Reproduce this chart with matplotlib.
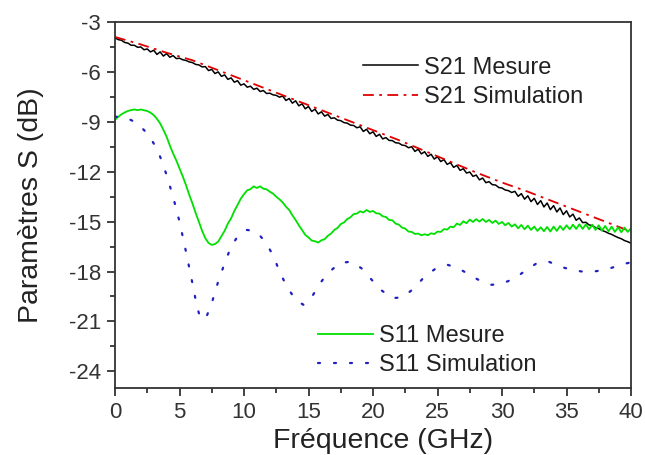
import matplotlib
matplotlib.use("Agg")
import matplotlib.pyplot as plt
from matplotlib.ticker import MultipleLocator
import numpy as np

plt.rcParams['font.family'] = ['Liberation Sans', 'DejaVu Sans']
plt.rcParams['axes.unicode_minus'] = False

# measured curves sampled every 0.25 GHz
f_meas = np.arange(0, 40.01, 0.25)

s21_mes = [
    -3.95, -4.06, -4.10, -4.23, -4.27, -4.40, -4.40, -4.52,
    -4.50, -4.67, -4.62, -4.80, -4.70, -4.95, -4.80, -5.05,
    -4.90, -5.12, -5.02, -5.20, -5.18, -5.27, -5.31, -5.40,
    -5.44, -5.55, -5.58, -5.70, -5.68, -5.92, -5.85, -6.10,
    -6.00, -6.27, -6.18, -6.45, -6.36, -6.62, -6.53, -6.80,
    -6.72, -6.92, -6.86, -7.05, -6.98, -7.18, -7.12, -7.30,
    -7.28, -7.38, -7.41, -7.52, -7.45, -7.72, -7.60, -7.88,
    -7.74, -8.04, -7.92, -8.22, -8.08, -8.38, -8.24, -8.53,
    -8.40, -8.66, -8.56, -8.80, -8.76, -8.90, -8.93, -9.05,
    -9.08, -9.20, -9.22, -9.36, -9.30, -9.58, -9.45, -9.72,
    -9.60, -9.88, -9.75, -10.03, -9.95, -10.12, -10.13, -10.26,
    -10.28, -10.40, -10.43, -10.56, -10.50, -10.78, -10.65, -10.93,
    -10.80, -11.08, -10.95, -11.24, -11.10, -11.39, -11.27, -11.56,
    -11.45, -11.74, -11.62, -11.92, -11.82, -12.08, -12.02, -12.28,
    -12.20, -12.49, -12.38, -12.66, -12.60, -12.78, -12.80, -12.95,
    -12.98, -13.10, -13.14, -13.25, -13.18, -13.48, -13.32, -13.65,
    -13.45, -13.80, -13.60, -13.97, -13.74, -14.12, -13.88, -14.28,
    -14.04, -14.42, -14.18, -14.58, -14.35, -14.72, -14.55, -14.92,
    -14.78, -15.06, -15.04, -15.20, -15.24, -15.36, -15.42, -15.53,
    -15.60, -15.70, -15.77, -15.87, -15.96, -16.03, -16.14, -16.21,
    -16.30,
]

s11_mes = [
    -8.88, -8.70, -8.55, -8.44, -8.35, -8.30, -8.26, -8.30,
    -8.26, -8.31, -8.35, -8.45, -8.60, -8.82, -9.10, -9.48,
    -9.90, -10.42, -10.90, -11.32, -11.80, -12.28, -12.80, -13.38,
    -13.90, -14.48, -15.00, -15.55, -16.00, -16.28, -16.40, -16.35,
    -16.20, -15.88, -15.55, -15.12, -14.80, -14.36, -14.00, -13.62,
    -13.35, -13.12, -13.05, -12.88, -12.98, -12.88, -13.02, -13.06,
    -13.20, -13.32, -13.50, -13.66, -13.85, -14.10, -14.30, -14.62,
    -14.90, -15.22, -15.50, -15.80, -15.95, -16.14, -16.18, -16.26,
    -16.12, -16.06, -15.85, -15.72, -15.50, -15.38, -15.15, -15.05,
    -14.85, -14.74, -14.55, -14.52, -14.38, -14.45, -14.30, -14.42,
    -14.36, -14.50, -14.52, -14.68, -14.72, -14.90, -14.92, -15.12,
    -15.18, -15.36, -15.42, -15.60, -15.62, -15.74, -15.72, -15.82,
    -15.76, -15.82, -15.70, -15.75, -15.60, -15.62, -15.45, -15.48,
    -15.30, -15.34, -15.12, -15.20, -14.98, -15.10, -14.88, -15.02,
    -14.85, -15.00, -14.84, -15.02, -14.90, -15.08, -14.94, -15.14,
    -15.02, -15.22, -15.08, -15.30, -15.16, -15.40, -15.20, -15.46,
    -15.24, -15.50, -15.30, -15.56, -15.34, -15.58, -15.32, -15.60,
    -15.30, -15.56, -15.26, -15.50, -15.22, -15.46, -15.18, -15.44,
    -15.16, -15.44, -15.16, -15.46, -15.18, -15.50, -15.22, -15.54,
    -15.26, -15.58, -15.30, -15.62, -15.34, -15.64, -15.36, -15.62,
    -15.40,
]

# simulated curves
f_s21_sim = [0, 2, 4, 6, 8, 10, 12, 14, 16, 18, 20,
             22, 24, 26, 28, 30, 32, 34, 36, 38, 40]
s21_sim = [-3.9, -4.35, -4.85, -5.3, -5.9, -6.5, -7.1, -7.7, -8.3, -8.9, -9.5,
           -10.1, -10.75, -11.4, -12.05, -12.65, -13.2, -13.8, -14.4, -15.0, -15.6]

f_s11_sim = [0, 0.5, 1.0, 1.5, 2.0, 2.5, 3.0, 3.5, 4.0, 4.5, 5.0, 5.5, 6.0,
             6.3, 6.5, 6.8, 7.1, 7.5, 8.0, 8.5, 9.0, 9.5, 10.2, 10.8, 11.3,
             11.8, 12.3, 12.8, 13.4, 14.0, 14.6, 15.2, 15.9, 16.5, 17.4,
             18.3, 19.1, 19.9, 20.6, 21.5, 22.3, 23.2, 24.0, 24.9, 25.8,
             26.6, 27.5, 28.4, 29.2, 30.1, 31.0, 31.9, 32.7, 33.6, 34.5,
             35.4, 36.2, 37.1, 38.0, 38.8, 39.7, 40.0]
s11_sim = [-8.7, -8.7, -8.8, -9.0, -9.3, -9.7, -10.3, -11.1, -12.2, -13.5,
           -15.0, -16.8, -18.7, -19.9, -20.5, -20.9, -20.7, -19.9, -18.6,
           -17.5, -16.5, -15.9, -15.5, -15.55, -15.9, -16.4, -17.1, -18.1,
           -19.0, -19.7, -20.0, -19.6, -18.7, -18.1, -17.5, -17.4, -17.8,
           -18.5, -19.1, -19.6, -19.55, -19.0, -18.3, -17.8, -17.6, -17.8,
           -18.2, -18.6, -18.8, -18.7, -18.4, -17.9, -17.5, -17.4, -17.7,
           -17.9, -18.0, -18.0, -17.9, -17.7, -17.5, -17.45]

fig = plt.figure(figsize=(6.45, 4.55), dpi=100)
ax = fig.add_axes([0.1783, 0.1473, 0.8, 0.8044])

l1, = ax.plot(f_meas, s21_mes, color='black', lw=1.1, label='S21 Mesure')
l2, = ax.plot(f_s21_sim, s21_sim, color='#e00000', lw=1.3,
              linestyle=(0, (6, 3, 1.5, 3)), label='S21 Simulation')
l3, = ax.plot(f_meas, s11_mes, color='#00e000', lw=1.3, label='S11 Mesure')
l4, = ax.plot(f_s11_sim, s11_sim, color='#2020c0', lw=1.6,
              linestyle=(0, (0.9, 6.3)), dash_capstyle='round',
              label='S11 Simulation')

ax.set_xlim(0, 40)
ax.set_ylim(-25, -3)
ax.xaxis.set_major_locator(MultipleLocator(5))
ax.xaxis.set_minor_locator(MultipleLocator(2.5))
ax.yaxis.set_major_locator(MultipleLocator(3))
ax.yaxis.set_minor_locator(MultipleLocator(1.5))
ax.tick_params(which='both', direction='out', top=False, right=False,
               width=1.2, colors='#222222', labelsize=16, labelcolor='#333333')
ax.tick_params(which='major', length=6, pad=4)
ax.tick_params(which='minor', length=3.5)
for s in ax.spines.values():
    s.set_linewidth(1.3)
    s.set_color('#333333')

ax.set_xlabel('Fréquence (GHz)', fontsize=20.5, color='#222222')
ax.set_ylabel('Paramètres S (dB)', fontsize=20.5, color='#222222')
ax.xaxis.set_label_coords(0.52, -0.11)
ax.yaxis.set_label_coords(-0.138, 0.5)

leg_kw = dict(loc='upper left', frameon=False, fontsize=17, handlelength=2.33,
              handletextpad=0.25, labelspacing=0.3, borderpad=0, borderaxespad=0)
leg1 = ax.legend(handles=[l1, l2], bbox_to_anchor=(0.48, 0.905), **leg_kw)
for t in leg1.get_texts():
    t.set_color('#222222')
ax.add_artist(leg1)
leg2 = ax.legend(handles=[l3, l4], bbox_to_anchor=(0.393, 0.172), **leg_kw)
for t in leg2.get_texts():
    t.set_color('#222222')

fig.savefig('out.png', dpi=100)
